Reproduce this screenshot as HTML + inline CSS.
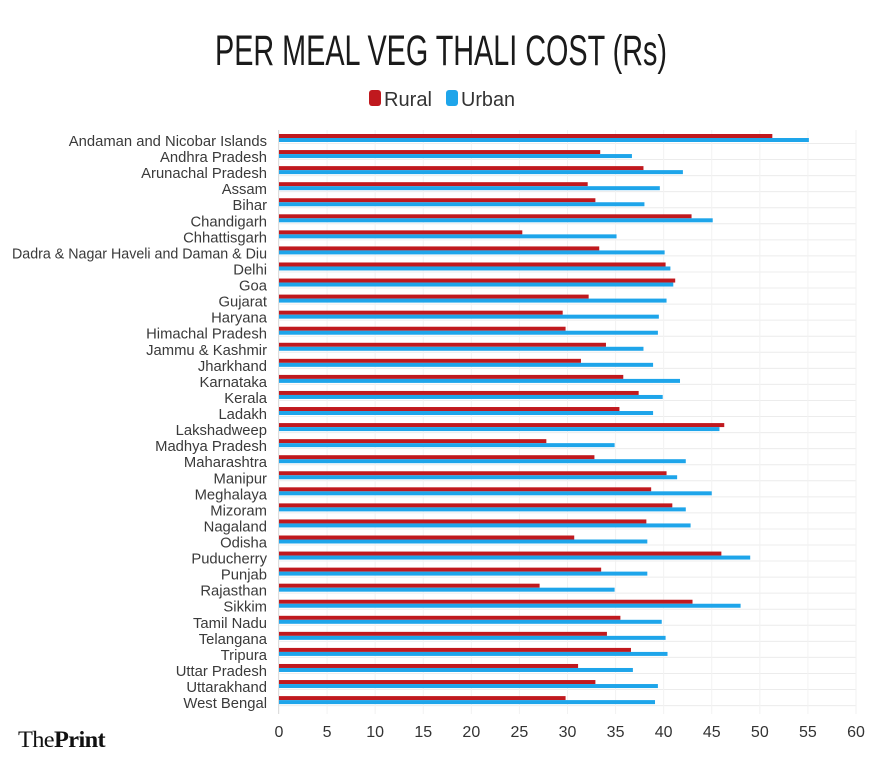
<!DOCTYPE html>
<html><head><meta charset="utf-8"><style>
html,body{margin:0;padding:0;background:#fff;}
svg{display:block;font-family:"Liberation Sans",sans-serif;}
</style></head><body>
<svg width="882" height="767" viewBox="0 0 882 767" xmlns="http://www.w3.org/2000/svg">
<text x="441" y="65" text-anchor="middle" font-family="Liberation Sans Narrow, Liberation Sans, sans-serif" font-size="43" fill="#1a1a1a" textLength="452" lengthAdjust="spacingAndGlyphs">PER MEAL VEG THALI COST (Rs)</text>
<rect x="369" y="90" width="12" height="16" rx="3" fill="#c0191e"/>
<text x="384" y="106" font-size="20" fill="#333" textLength="48" lengthAdjust="spacingAndGlyphs">Rural</text>
<rect x="446" y="90" width="12" height="16" rx="3" fill="#1ea5ea"/>
<text x="461" y="106" font-size="20" fill="#333" textLength="54" lengthAdjust="spacingAndGlyphs">Urban</text>
<g id="grid" stroke="#ececec" stroke-width="1"></g>
<line x1="278.5" y1="130" x2="278.5" y2="714" stroke="#ddd"/>
<g id="bars"></g>
<g id="labels" font-size="14.8" fill="#3a3a3a" text-anchor="end"></g>
<g id="ticks" font-size="16" fill="#333" text-anchor="middle"></g>
<text x="18" y="747" font-family="Liberation Serif, serif" font-size="23" fill="#111" letter-spacing="-0.6" textLength="87" lengthAdjust="spacingAndGlyphs">The<tspan font-weight="bold">Print</tspan></text>
</svg>
<script>
var d=[["Andaman and Nicobar Islands",51.3,55.1],["Andhra Pradesh",33.4,36.7],["Arunachal Pradesh",37.9,42.0],["Assam",32.1,39.6],["Bihar",32.9,38.0],["Chandigarh",42.9,45.1],["Chhattisgarh",25.3,35.1],["Dadra & Nagar Haveli and Daman & Diu",33.3,40.1],["Delhi",40.2,40.7],["Goa",41.2,41.0],["Gujarat",32.2,40.3],["Haryana",29.5,39.5],["Himachal Pradesh",29.8,39.4],["Jammu & Kashmir",34.0,37.9],["Jharkhand",31.4,38.9],["Karnataka",35.8,41.7],["Kerala",37.4,39.9],["Ladakh",35.4,38.9],["Lakshadweep",46.3,45.8],["Madhya Pradesh",27.8,34.9],["Maharashtra",32.8,42.3],["Manipur",40.3,41.4],["Meghalaya",38.7,45.0],["Mizoram",40.9,42.3],["Nagaland",38.2,42.8],["Odisha",30.7,38.3],["Puducherry",46.0,49.0],["Punjab",33.5,38.3],["Rajasthan",27.1,34.9],["Sikkim",43.0,48.0],["Tamil Nadu",35.5,39.8],["Telangana",34.1,40.2],["Tripura",36.6,40.4],["Uttar Pradesh",31.1,36.8],["Uttarakhand",32.9,39.4],["West Bengal",29.8,39.1]];
var NS="http://www.w3.org/2000/svg",sc=577/60;
function el(t,a,p,txt){var e=document.createElementNS(NS,t);for(var k in a)e.setAttribute(k,a[k]);if(txt)e.textContent=txt;document.getElementById(p).appendChild(e);}
d.forEach(function(r,i){var y=134+i*16.06;
el("line",{x1:279,x2:856,y1:y+9.5,y2:y+9.5},"grid");
el("rect",{x:279,y:y,width:r[1]*sc,height:4,fill:"#c0191e"},"bars");
el("rect",{x:279,y:y+4,width:r[2]*sc,height:4,fill:"#1ea5ea"},"bars");
var a={x:267,y:y+12};if(i==7){a.textLength=255;a.lengthAdjust="spacingAndGlyphs";}
el("text",a,"labels",r[0]);});
for(var v=0;v<=60;v+=5){el("text",{x:279+v*sc,y:737},"ticks",""+v);el("line",{x1:279+v*sc,x2:279+v*sc,y1:130,y2:714,stroke:"#f2f2f2"},"grid");}
</script>
</body></html>
